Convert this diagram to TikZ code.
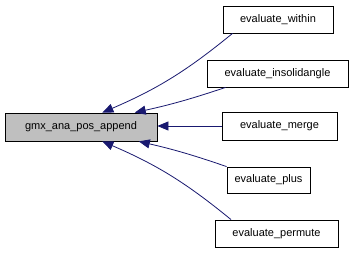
\documentclass[tikz,border=0pt]{standalone}
\usepackage{fontspec}
\setmainfont{Liberation Sans}
\usetikzlibrary{arrows.meta}
\definecolor{edgeblue}{HTML}{191970}
\definecolor{mainfill}{HTML}{BFBFBF}
\begin{document}
\begin{tikzpicture}[x=1pt,y=-1pt,
  fn/.style={draw=black,fill=white,line width=0.8pt,inner sep=0pt,
    minimum height=27pt,font=\fontsize{11}{13}\selectfont},
  edge/.style={draw=edgeblue,line width=0.8pt,
    -{Triangle[length=11pt,width=9pt,fill=edgeblue]}}]
\useasboundingbox[fill=white] (0,0) rectangle (357,253);
% caller (highlighted)
\node[fn,fill=mainfill,minimum width=152pt,minimum height=28pt] (main) at (81,127) {gmx\_ana\_pos\_append};
% callees
\node[fn,minimum width=110pt] (within) at (278,19.5) {evaluate\_within};
\node[fn,minimum width=141pt] (solid) at (277.5,73.5) {evaluate\_insolidangle};
\node[fn,minimum width=115pt,minimum height=28pt] (merge) at (279.5,126) {evaluate\_merge};
\node[fn,minimum width=83pt,minimum height=26pt] (plus) at (268.5,180) {evaluate\_plus};
\node[fn,minimum width=123pt] (permute) at (276.5,233.5) {evaluate\_permute};
% call edges
\draw[edge] (within.197) to[bend left=8] (main.34);
\draw[edge] (solid.195) to[bend left=3] (main.15);
\draw[edge] (merge.west) -- (main.east |- merge.west);
\draw[edge] (plus.north west) to[bend right=3] (main.-14.5);
\draw[edge] (permute.163) to[bend right=8] (main.-34);
\end{tikzpicture}
\end{document}
